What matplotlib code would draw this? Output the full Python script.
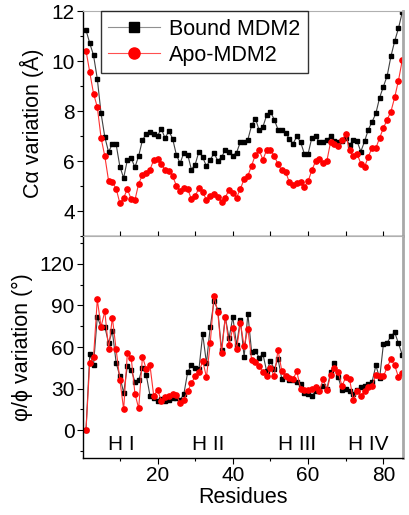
import numpy as np
import matplotlib
matplotlib.use("Agg")
import matplotlib.pyplot as plt
from matplotlib.ticker import MultipleLocator

plt.rcParams['font.family'] = ['Liberation Sans', 'DejaVu Sans']

residues = np.arange(1, 86)

# C-alpha variation (A)
ca_bound = [11.24, 10.71, 10.23, 9.29, 7.91, 6.96, 6.36, 6.69, 6.67, 5.78,
            5.32, 6.05, 6.11, 5.75, 6.21, 6.84, 7.08, 7.16, 7.07, 7.00,
            7.30, 6.91, 7.20, 6.90, 6.25, 5.91, 6.34, 6.26, 5.66, 5.86,
            6.38, 6.15, 5.79, 6.05, 6.31, 6.02, 6.15, 6.45, 6.37, 6.22,
            6.34, 6.76, 6.76, 6.86, 7.43, 7.70, 7.23, 7.37, 7.84, 7.97,
            7.66, 7.26, 7.23, 7.12, 6.90, 6.69, 6.99, 6.76, 6.29, 6.29,
            6.94, 6.99, 6.76, 6.76, 6.83, 6.99, 6.79, 6.76, 6.79, 6.92,
            6.65, 6.83, 6.79, 6.38, 6.79, 7.26, 7.57, 7.91, 8.54, 8.98,
            9.41, 10.19, 10.80, 11.31, 11.95]
ca_apo = [10.42, 9.55, 8.70, 8.16, 6.93, 6.19, 5.21, 5.15, 4.90, 4.31,
          4.53, 4.88, 4.47, 4.44, 5.10, 5.44, 5.51, 5.66, 6.04, 6.08,
          5.88, 5.64, 5.62, 5.40, 5.02, 4.81, 4.94, 4.89, 4.47, 4.61,
          4.91, 4.77, 4.44, 4.62, 4.70, 4.56, 4.35, 4.54, 4.85, 4.74,
          4.54, 4.88, 5.28, 5.41, 5.82, 6.25, 6.43, 6.05, 6.45, 6.45,
          6.20, 5.88, 5.63, 5.58, 5.16, 5.04, 5.13, 5.17, 4.97, 5.19,
          5.64, 5.99, 6.07, 5.93, 6.02, 6.78, 6.69, 6.59, 6.83, 7.07,
          6.43, 6.19, 6.29, 5.90, 5.76, 6.18, 6.53, 6.52, 6.93, 7.32,
          7.66, 7.98, 8.55, 9.22, 10.03]

# phi/psi variation (deg)
ang_bound = [0, 54.8, 47.1, 81.7, 74.5, 74.5, 63, 71.4, 48.8, 38.8,
             27, 46.4, 43.6, 35, 36, 45.2, 40, 25, 23, 21.4,
             22.6, 21, 22, 23.3, 23.3, 21.7, 26.2, 41.7, 47.1, 44.8,
             44, 69.3, 48.3, 74.5, 93, 86.9, 57.9, 81.7, 66.2, 81.7,
             61.4, 79.8, 52.6, 84, 56.2, 57.1, 52.4, 54.8, 42.4, 50.2,
             44, 51.4, 37.1, 38.8, 36, 36, 35, 33, 27, 26,
             25, 28, 30, 32, 30, 42, 48.3, 38.1, 29, 30,
             28, 26, 29, 31, 32, 33, 35, 46.7, 37.6, 62.1,
             63.1, 67.9, 70.5, 62.6, 54.3]
ang_apo = [0, 48.8, 52.6, 94.3, 74.5, 85.7, 58.3, 81.2, 58.3, 36.4,
           15, 56, 52.4, 26.4, 15.7, 53.1, 44, 46.7, 24.5, 29.3,
           21, 24, 25, 26.2, 25.7, 19.3, 22.1, 28, 34, 38.8,
           41.7, 50, 38.3, 62.6, 97.1, 85.2, 55.5, 81.7, 61.4, 74,
           58.3, 77.4, 60.7, 73.3, 50.7, 49, 46.4, 41.7, 38.8, 44.8,
           38.8, 57.9, 42.9, 38.8, 38, 37, 42.4, 30, 29, 29,
           30, 31, 28, 36.9, 29, 40, 44.8, 41.7, 32, 38.1,
           37, 22, 28, 25, 28, 31, 32, 40, 38.8, 38.8,
           45.5, 51.2, 46.7, 38.3, 41.2]

helix_labels = ["H I", "H II", "H III", "H IV"]
helix_pos = [10.5, 33.5, 57, 76]

fig = plt.figure(figsize=(4.10, 5.15), dpi=100)
ax1 = fig.add_axes([0.2024, 0.5417, 0.7805, 0.4369])
ax2 = fig.add_axes([0.2024, 0.1107, 0.7805, 0.4310])

for ax in (ax1, ax2):
    ax.set_xlim(0.2, 85.2)
    ax.xaxis.set_major_locator(MultipleLocator(20))
    ax.xaxis.set_minor_locator(MultipleLocator(10))
    ax.spines['left'].set_linewidth(1.0)
    ax.spines['bottom'].set_linewidth(1.0)
    ax.spines['top'].set_color('#b0b0b0')
    ax.spines['top'].set_linewidth(0.8)
    ax.spines['right'].set_color('#a8a8a8')
    ax.spines['right'].set_linewidth(2.0)
    ax.tick_params(axis='y', which='major', direction='out', length=4, width=0.8, labelsize=15, pad=2)
    ax.tick_params(axis='y', which='minor', direction='out', length=2.5, width=0.8)

ax1.plot(residues, ca_bound, color='#404040', lw=0.8, marker='s', ms=3.0,
         mfc='black', mec='black', label='Bound MDM2')
ax1.plot(residues, ca_apo, color='#ff3030', lw=0.8, marker='o', ms=3.8,
         mfc='red', mec='red', label='Apo-MDM2')
ax1.set_ylim(3, 12)
ax1.yaxis.set_major_locator(MultipleLocator(2))
ax1.yaxis.set_minor_locator(MultipleLocator(1))
ax1.tick_params(axis='x', which='both', direction='in', length=3.5, width=0.8, labelbottom=False)
ax1.set_ylabel('Cα variation (Å)', fontsize=15.5, labelpad=5)
leg = ax1.legend(loc='upper left', bbox_to_anchor=(0.056, 1.0), fontsize=15.5,
                 frameon=True, fancybox=False, edgecolor='black', handlelength=2.4,
                 borderpad=0.35, labelspacing=0.25, handletextpad=0.4, borderaxespad=0.0)
leg.get_frame().set_linewidth(1.0)
handles = leg.legend_handles
handles[0].set_markersize(6.5)
handles[0].set_color('#909090')
handles[0].set_markerfacecolor('black')
handles[0].set_markeredgecolor('black')
handles[1].set_markersize(8.0)
handles[1].set_color('#ff5050')
handles[1].set_markerfacecolor('red')
handles[1].set_markeredgecolor('red')

ax2.plot(residues, ang_bound, color='#404040', lw=0.8, marker='s', ms=3.0,
         mfc='black', mec='black')
ax2.plot(residues, ang_apo, color='#ff3030', lw=0.8, marker='o', ms=3.8,
         mfc='red', mec='red')
ax2.set_ylim(-20, 140)
ax2.yaxis.set_minor_locator(MultipleLocator(15))
ax2.set_yticks([0, 30, 60, 90, 120])
ax2.tick_params(axis='x', which='major', direction='out', length=4, width=0.8, labelsize=15, pad=2)
ax2.tick_params(axis='x', which='minor', direction='out', length=2.5, width=0.8)
ax2.set_xlabel('Residues', fontsize=15.5, labelpad=1)
ax2.set_ylabel('φ/ϕ variation (°)', fontsize=15.5, labelpad=5)

for lab, xp in zip(helix_labels, helix_pos):
    ax2.text(xp, -10, lab, ha='center', va='center', fontsize=15)

fig.savefig('out.png', dpi=100)
